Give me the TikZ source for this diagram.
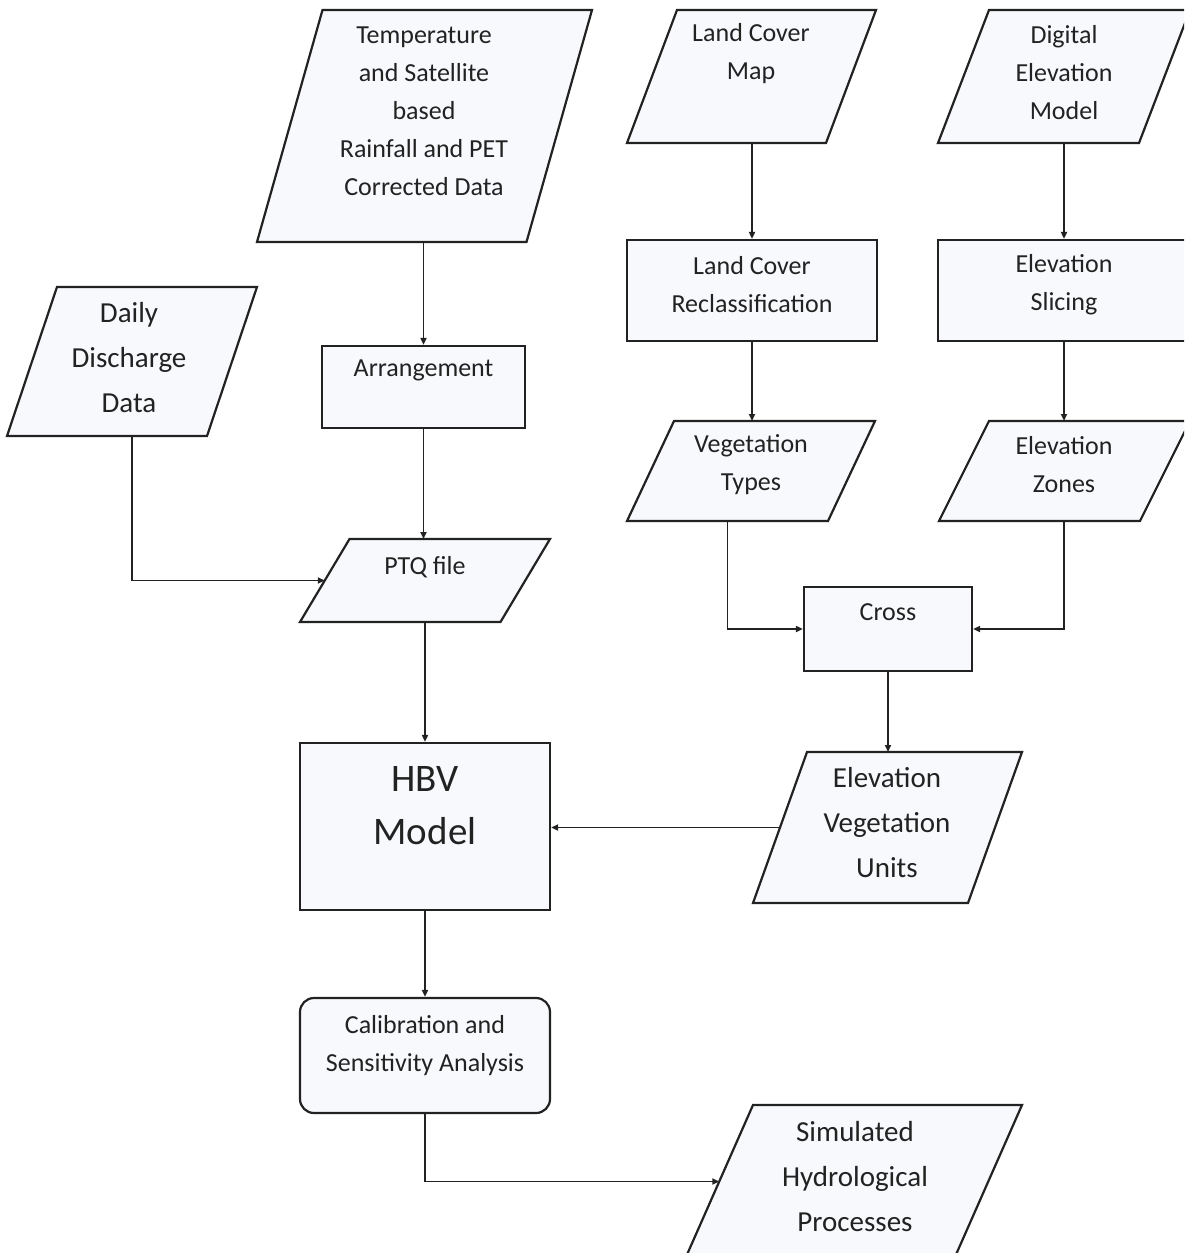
\documentclass[tikz,border=0pt]{standalone}
\usepackage{fontspec}
\setmainfont{Carlito}
\usetikzlibrary{arrows.meta}
\definecolor{boxfill}{RGB}{248,249,252}
\definecolor{linec}{RGB}{34,34,34}
\newcommand{\ioshape}[2]{\filldraw[iopath] ([xshift=#2]#1.north west) -- (#1.north east) -- ([xshift=-#2]#1.south east) -- (#1.south west) -- cycle;}

\begin{document}
\begin{tikzpicture}[x=0.5pt,y=-0.5pt]
\tikzstyle{every node}+=[inner sep=0pt]
\tikzstyle{iobody}=[rectangle, outer sep=0pt]
\tikzstyle{iopath}=[draw=linec, fill=boxfill, line width=1.1pt, line join=miter]
\tikzstyle{procbox}=[rectangle, draw=linec, fill=boxfill, line width=1.1pt]
\tikzstyle{txt}=[align=center, text=linec, font=\fontsize{13}{19}\selectfont]
\tikzstyle{bigtxt}=[align=center, text=linec, font=\fontsize{14.5}{22.5}\selectfont]
\tikzstyle{hugetxt}=[align=center, text=linec, font=\fontsize{19.5}{26.5}\selectfont]
\tikzstyle{flow}=[draw=linec, line width=0.85pt, -{Triangle[length=3.5pt,width=3pt]}]
\useasboundingbox (0,0) rectangle (1184,1253);
\fill[white] (0,0) rectangle (1184,1253);
\clip (0,0) rectangle (1184,1253);
\node[iobody, minimum width=167.5pt, minimum height=116pt] (temp) at (424.5,126) {};
\ioshape{temp}{32.75pt}
\node[iobody, minimum width=124.5pt, minimum height=66.5pt] (lcmap) at (751.5,76.5) {};
\ioshape{lcmap}{25pt}
\node[iobody, minimum width=126pt, minimum height=66.5pt] (dem) at (1064,76.5) {};
\ioshape{dem}{25.5pt}
\node[procbox, minimum width=125pt, minimum height=50.5pt] (lcrc) at (752,290.5) {};
\node[procbox, minimum width=126pt, minimum height=50.5pt] (slice) at (1064,290.5) {};
\node[iobody, minimum width=125pt, minimum height=74.5pt] (daily) at (132,361.5) {};
\ioshape{daily}{25pt}
\node[procbox, minimum width=101.5pt, minimum height=41pt] (arr) at (423.5,387) {};
\node[iobody, minimum width=124pt, minimum height=50pt] (vt) at (751,471) {};
\ioshape{vt}{23.5pt}
\node[iobody, minimum width=125.5pt, minimum height=50pt] (ez) at (1064.5,471) {};
\ioshape{ez}{25pt}
\node[iobody, minimum width=125pt, minimum height=41.5pt] (ptq) at (425,580.5) {};
\ioshape{ptq}{24.75pt}
\node[procbox, minimum width=84pt, minimum height=42pt] (cross) at (888,629) {};
\node[procbox, minimum width=125pt, minimum height=83.5pt] (hbv) at (425,826.5) {};
\node[iobody, minimum width=134.5pt, minimum height=75.5pt] (evu) at (887.5,827.5) {};
\ioshape{evu}{27pt}
\node[procbox, rounded corners=7pt, minimum width=125pt, minimum height=57.5pt] (calib) at (425,1055.5) {};
\node[iobody, minimum width=168.25pt, minimum height=76.5pt] (shp) at (853.75,1181.5) {};
\ioshape{shp}{33.75pt}
\node[txt] (temp-t) at (424,111) {Temperature\\and Satellite\\based\\Rainfall and PET\\Corrected Data};
\node[txt] (lcmap-t) at (751,54) {Land Cover\\Map};
\node[txt] (dem-t) at (1064,73) {Digital\\Elevation\\Model};
\node[txt] (lcrc-t) at (752,285) {Land Cover\\Reclassification};
\node[txt] (slice-t) at (1064,285) {Elevation\\Slicing};
\node[bigtxt] (daily-t) at (129,358) {Daily\\Discharge\\Data};
\node[txt] (arr-t) at (423.5,370) {Arrangement};
\node[txt] (vt-t) at (751,465) {Vegetation\\Types};
\node[txt] (ez-t) at (1064,465) {Elevation\\Zones};
\node[txt] (ptq-t) at (425,567) {PTQ file};
\node[txt] (cross-t) at (888,612) {Cross};
\node[hugetxt] (hbv-t) at (425,806) {HBV\\Model};
\node[bigtxt] (evu-t) at (887,823) {Elevation\\Vegetation\\Units};
\node[txt] (calib-t) at (425,1046) {Calibration and\\Sensitivity Analysis};
\node[bigtxt] (shp-t) at (855,1177) {Simulated\\Hydrological\\Processes};
\draw[flow] (arr.north |- temp.south) -- (arr.north);
\draw[flow] (lcrc.north |- lcmap.south) -- (lcrc.north);
\draw[flow] (slice.north |- dem.south) -- (slice.north);
\draw[flow] (lcrc.south) -- (lcrc.south |- vt.north);
\draw[flow] (slice.south) -- (slice.south |- ez.north);
\draw[flow] (arr.south) -- (arr.south |- ptq.north);
\draw[flow] (daily.south) |- ([xshift=12.4pt]ptq.west);
\draw[flow] ([xshift=-11.75pt]vt.south) |- (cross.west);
\draw[flow] (slice.south |- ez.south) |- (cross.east);
\draw[flow] (cross.south) -- (cross.south |- evu.north);
\draw[flow] (hbv.north |- ptq.south) -- (hbv.north);
\draw[flow] ([xshift=13.5pt]evu.west) -- (evu.west -| hbv.east);
\draw[flow] (hbv.south) -- (calib.north);
\draw[flow] (calib.south) |- ([xshift=16.9pt]shp.west);
\end{tikzpicture}
\end{document}
